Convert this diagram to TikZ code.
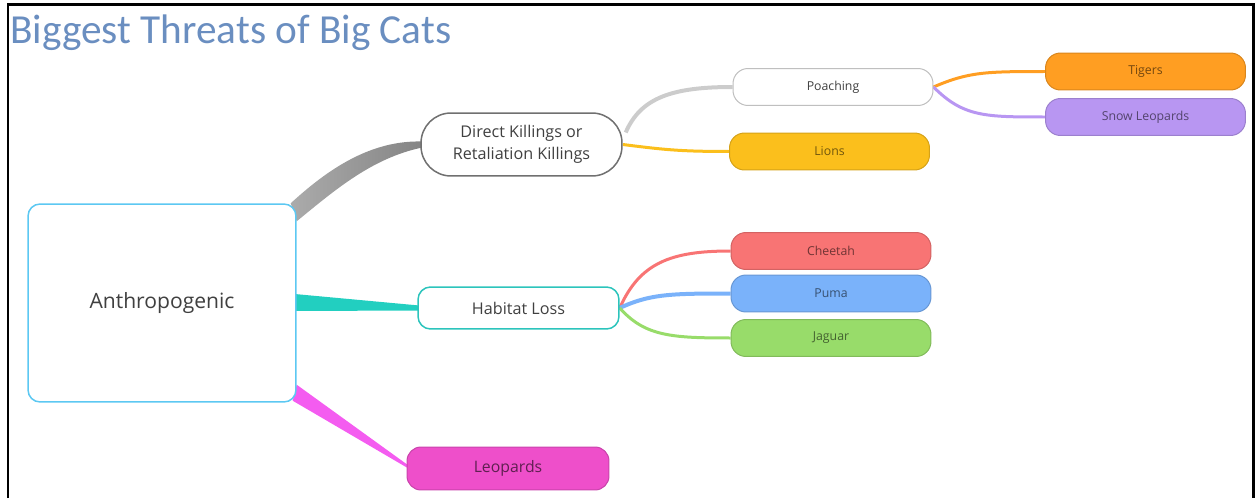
\documentclass[tikz,border=0pt]{standalone}
\usepackage{fontspec}
\setmainfont{Open Sans}
\newfontfamily\titlefont{Carlito}
\usepackage{tikz}
\usetikzlibrary{calc,backgrounds}

\definecolor{titleblue}{HTML}{6A8EC0}
\definecolor{rootblue}{HTML}{5CC8F2}
\definecolor{greyline}{HTML}{707070}
\definecolor{tealline}{HTML}{2CC4BC}
\definecolor{tealfill}{HTML}{22CFC0}
\definecolor{magfill}{HTML}{EE4FCA}
\definecolor{magline}{HTML}{F45CF0}
\definecolor{lionfill}{HTML}{FBBF1C}
\definecolor{tigerfill}{HTML}{FF9E22}
\definecolor{snowfill}{HTML}{B896F2}
\definecolor{cheetahfill}{HTML}{F87474}
\definecolor{pumafill}{HTML}{7AB2FA}
\definecolor{jaguarfill}{HTML}{98DC6A}

\tikzset{
  leaf/.style={draw=#1!85!black, fill=#1, line width=0.02cm, rounded corners=0.3cm,
    minimum width=4cm, minimum height=0.74cm, inner sep=0pt,
    text=#1!45!black, font=\fontsize{7}{8}\selectfont},
  topic/.style={draw=#1, fill=white, line width=0.03cm, rounded corners=0.25cm,
    minimum width=4.02cm, minimum height=0.84cm, inner sep=0pt,
    text=black!75, font=\fontsize{9.2}{12.5}\selectfont, align=center},
}

\begin{document}
\begin{tikzpicture}[x=0.02cm, y=0.02cm]
      \useasboundingbox (0,0) rectangle (1259,498);
      % frame and title
      \draw[line width=0.06cm] (8,0) -- (8,493) -- (1253,493) -- (1253,0);
      \node[anchor=base west, text=titleblue, font=\titlefont\fontsize{23.5}{26}\selectfont, inner sep=0pt] (title) at (10,455) {Biggest Threats of Big Cats};

      % main nodes
      \node[draw=rootblue, fill=white, line width=0.03cm, rounded corners=0.24cm, minimum width=5.36cm, minimum height=3.96cm, text=black!75, font=\fontsize{12}{14}\selectfont] (anthro) at (162,195) {Anthropogenic};
      \node[topic=greyline, rounded corners=0.6cm, minimum height=1.26cm] (direct) at (521.5,353.5) {Direct Killings or\\Retaliation Killings};
      \node[topic=tealline] (habitat) at (518.5,190) {Habitat Loss};
      \node[leaf=magfill, minimum width=4.04cm, minimum height=0.86cm, rounded corners=0.28cm, text=magfill!40!black, font=\fontsize{9}{10}\selectfont] (leopards) at (508,29.5) {Leopards};

      % second level
      \node[leaf=white, draw=black!25, text=black!75] (poaching) at (833,411) {Poaching};
      \node[leaf=lionfill] (lions) at (829.5,346.5) {Lions};
      \node[leaf=tigerfill] (tigers) at (1145.5,426.5) {Tigers};
      \node[leaf=snowfill] (snow) at (1145.5,381) {Snow Leopards};
      \node[leaf=cheetahfill] (cheetah) at (831,247) {Cheetah};
      \node[leaf=pumafill] (puma) at (831,204.5) {Puma};
      \node[leaf=jaguarfill] (jaguar) at (831,160) {Jaguar};

      \begin{pgfonlayer}{background}
      % tapered branches from the root
      \shade[left color=black!33, right color=black!48] ($(anthro.north east)+(-6,0)$) .. controls (327,328) and (370,358) .. ($(direct.west)+(2,3)$)
        -- ($(direct.west)+(2,-3)$) .. controls (372,340) and (335,308) .. ($(anthro.north east)+(0,-18)$) -- cycle;
      \fill[tealfill] ($(anthro.east)+(-2,9)$) -- ($(habitat.west)+(2,2.5)$) -- ($(habitat.west)+(2,-2.5)$) -- ($(anthro.east)+(-2,-8)$) -- cycle;
      \fill[magline] ($(anthro.south east)+(0,18)$) -- ($(leopards.west)+(2,3)$) -- ($(leopards.west)+(2,0)$) -- ($(anthro.south east)+(-4,2)$) -- cycle;

      % thin branches
      \draw[black!20, line width=0.08cm] ($(direct.east)+(3,12)$) .. controls +(15,35) and +(-60,0) .. (poaching.west);
      \draw[lionfill, line width=0.06cm] ($(direct.east)+(0,0)$) .. controls +(40,-5) and +(-50,0) .. (lions.west);
      \draw[tigerfill, line width=0.06cm] (poaching.east) .. controls +(35,15) and +(-60,0) .. (tigers.west);
      \draw[snowfill, line width=0.06cm] (poaching.east) .. controls +(30,-30) and +(-60,0) .. (snow.west);
      \draw[cheetahfill, line width=0.06cm] (habitat.east) .. controls +(20,45) and +(-60,0) .. (cheetah.west);
      \draw[pumafill, line width=0.08cm] (habitat.east) .. controls +(30,14) and +(-60,0) .. (puma.west);
      \draw[jaguarfill, line width=0.06cm] (habitat.east) .. controls +(25,-28) and +(-60,0) .. (jaguar.west);
      \end{pgfonlayer}
    \end{tikzpicture}
\end{document}
